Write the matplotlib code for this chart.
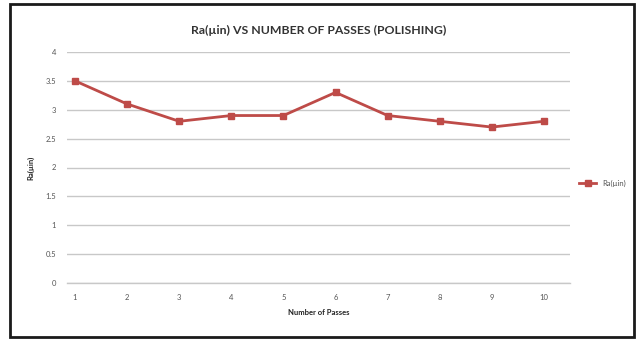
import matplotlib
matplotlib.use("Agg")
import matplotlib.pyplot as plt
from matplotlib.patches import Rectangle

passes = [1, 2, 3, 4, 5, 6, 7, 8, 9, 10]
ra_values = [3.5, 3.1, 2.8, 2.9, 2.9, 3.3, 2.9, 2.8, 2.7, 2.8]
y_ticks = [0, 0.5, 1, 1.5, 2, 2.5, 3, 3.5, 4]
y_tick_labels = ["0", "0.5", "1", "1.5", "2", "2.5", "3", "3.5", "4"]

plt.rcParams['font.family'] = ['Lato', 'DejaVu Sans']

W, H = 636, 339
fig = plt.figure(figsize=(W / 100, H / 100), dpi=100)
fig.patch.set_facecolor('white')

# outer border
fig.add_artist(Rectangle((10 / W, 2 / H), 624 / W, 333 / H, transform=fig.transFigure,
                         fill=False, edgecolor='#1a1a1a', linewidth=2.0))

left, right, top, bottom = 67, 570, 52, 283
ax = fig.add_axes([left / W, 1 - bottom / H, (right - left) / W, (bottom - top) / H])
line_color = '#BE4B48'
ax.plot(passes, ra_values, color=line_color, linewidth=2.0, marker='s', markersize=5,
        label='Ra(µin)')
ax.set_ylim(0, 4)
ax.set_xlim(0.846, 10.5)
ax.set_yticks(y_ticks)
ax.set_yticklabels(y_tick_labels)
ax.set_xticks(passes)
ax.set_xticklabels([str(p) for p in passes])
ax.grid(axis='y', color='#c8c8c8', linewidth=1.0)
ax.set_axisbelow(True)
for s in ['top', 'right', 'left']:
    ax.spines[s].set_visible(False)
ax.spines['bottom'].set_color('#c8c8c8')
ax.spines['bottom'].set_linewidth(1.0)
ax.tick_params(axis='both', length=0, labelsize=5.5, labelcolor='#555555')
ax.tick_params(axis='x', pad=8)
ax.tick_params(axis='y', pad=8)

ax.set_title('Ra(µin) VS NUMBER OF PASSES (POLISHING)', fontsize=8.8, fontweight='bold',
             color='#333333', pad=13)
ax.set_xlabel('Number of Passes', fontsize=5.5, fontweight='bold', color='#222222', labelpad=6)
ax.set_ylabel('Ra(µin)', fontsize=5.5, fontweight='bold', color='#222222', labelpad=8)

ax.legend(loc='center left', bbox_to_anchor=(1.005, 0.43), frameon=False, fontsize=5.5,
          handlelength=2.2, markerscale=0.8, labelcolor='#555555')

fig.savefig('out.png', dpi=100, facecolor='white')
